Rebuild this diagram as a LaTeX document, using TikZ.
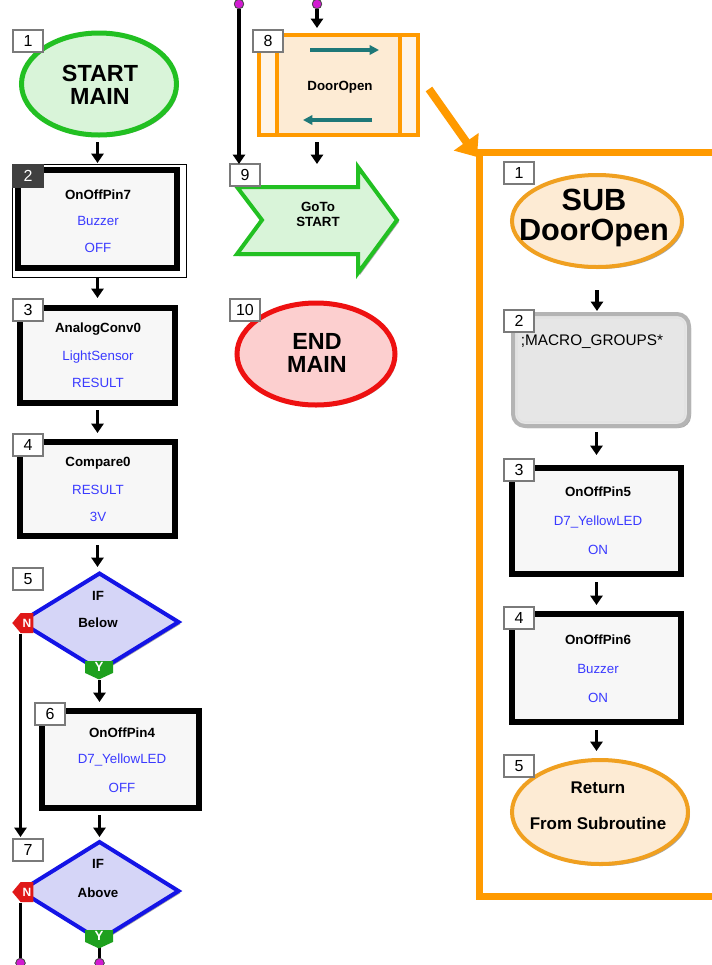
\documentclass[tikz,border=0pt]{standalone}
\usepackage{fontspec}
\setmainfont{Liberation Sans}
\usetikzlibrary{arrows.meta,shapes.geometric,shapes.symbols,shadows}
\definecolor{sgreen}{HTML}{22C022}
\definecolor{sgfill}{HTML}{D9F4D9}
\definecolor{ered}{HTML}{EE1111}
\definecolor{efill}{HTML}{FCCFCF}
\definecolor{orng}{HTML}{FF9A00}
\definecolor{sorng}{HTML}{F0A020}
\definecolor{ofill}{HTML}{FDEBD4}
\definecolor{dblue}{HTML}{1414E6}
\definecolor{dfill}{HTML}{D5D5F7}
\definecolor{vblue}{HTML}{3A3AFF}
\definecolor{teal2}{HTML}{1E7878}
\definecolor{boxfill}{HTML}{F7F7F7}
\definecolor{mag}{HTML}{D21BD2}
\definecolor{nred}{HTML}{E01818}
\definecolor{ygreen}{HTML}{1EA01E}
\definecolor{lblgray}{HTML}{7A7A7A}
\definecolor{mgfill}{HTML}{E6E6E6}
\definecolor{mgdraw}{HTML}{B4B4B4}
\begin{document}
\begin{tikzpicture}[x=0.75pt,y=-0.75pt,
  flow/.style={line width=2.5pt, -{Triangle[length=7pt,width=9pt]}},
  conn/.style={line width=2.5pt},
  shad/.style={drop shadow={shadow xshift=1.5pt,shadow yshift=-1.5pt,opacity=0.35,fill=black}},
  cmdbox/.style={draw=black, line width=4.5pt, fill=boxfill, inner sep=0pt, outer sep=0pt, shad},
  numlbl/.style={draw=lblgray, fill=white, line width=0.8pt, minimum width=22.5pt, minimum height=16.5pt, inner sep=0pt, outer sep=0pt, anchor=north west, font=\fontsize{12}{12}\selectfont},
  nm/.style={font=\bfseries\fontsize{10}{12}\selectfont, inner sep=0pt},
  val/.style={font=\fontsize{10}{12}\selectfont, text=vblue, inner sep=0pt},
  dot/.style={circle, fill=mag, draw=black!70, line width=0.6pt, minimum size=7pt, inner sep=0pt},
  decis/.style={diamond, draw=dblue, line width=3pt, fill=dfill, inner sep=0pt, outer sep=0pt, shad},
  nmark/.style={signal, signal to=west, signal pointer angle=100, fill=nred, text=white, font=\bfseries\fontsize{9}{9}\selectfont, inner sep=1.5pt, minimum height=15pt},
  ymark/.style={signal, signal to=south, signal pointer angle=130, fill=ygreen, text=white, font=\bfseries\fontsize{10}{10}\selectfont, inner sep=1pt, minimum width=21pt},
]
\useasboundingbox[fill=white] (0,0) rectangle (712,965);

% ---------------- column 1 ----------------
\node[draw=sgreen, line width=3.75pt, fill=sgfill, ellipse, minimum width=116.25pt, minimum height=76.5pt, inner sep=0pt, outer sep=0pt, shad] (e1) at (99,84) {};
\node[font=\bfseries\fontsize{17.5}{17.25}\selectfont, align=center, inner sep=0pt] (t1) at (100,85) {START\\MAIN};

\node[cmdbox, minimum width=119.25pt, minimum height=73.5pt] (b2) at (97.5,219) {};
\draw[line width=0.75pt] (12,164) rectangle (186,277);
\node[nm] (t2a) at (98,195) {OnOffPin7};
\node[val] (t2b) at (98,221) {Buzzer};
\node[val] (t2c) at (98,248) {OFF};

\node[cmdbox, minimum width=116.25pt, minimum height=71.25pt] (b3) at (97.5,355.5) {};
\node[nm] (t3a) at (98,329) {AnalogConv0};
\node[val] (t3b) at (98,357) {LightSensor};
\node[val] (t3c) at (98,383) {RESULT};

\node[cmdbox, minimum width=116.25pt, minimum height=70.5pt] (b4) at (97.5,489) {};
\node[nm] (t4a) at (98,463) {Compare0};
\node[val] (t4b) at (98,490) {RESULT};
\node[val] (t4c) at (98,517) {3V};

\node[decis, minimum width=118.5pt, minimum height=72.75pt] (d5) at (99.5,622) {};
\node[nm] (t5a) at (98,596) {IF};
\node[nm] (t5b) at (98,623) {Below};

\node[cmdbox, minimum width=117.75pt, minimum height=72.75pt] (b6) at (120.5,759.5) {};
\node[nm] (t6a) at (122,733) {OnOffPin4};
\node[val] (t6b) at (122,760) {D7\_YellowLED};
\node[val] (t6c) at (122,788) {OFF};

\node[decis, minimum width=118.5pt, minimum height=73.5pt] (d7) at (99.5,891) {};
\node[nm] (t7a) at (98,864) {IF};
\node[nm] (t7b) at (98,893) {Above};

% connectors column 1
\draw[flow, shorten <=5.25pt, shorten >=5.25pt] (b2.north |- e1.south) -- (b2.north);
\draw[flow, shorten <=7.5pt, shorten >=7.5pt] (b2.south) -- (b3.north);
\draw[flow, shorten <=5.25pt, shorten >=6.75pt] (b3.south) -- (b4.north);
\draw[flow, shorten <=6.75pt, shorten >=4.9pt] (b4.south) -- (b4.south |- d5.north);
\draw[flow, shorten <=7pt, shorten >=6.75pt] (d5.south) -- (d5.south |- b6.north);
\draw[flow, shorten <=5.25pt, shorten >=3.75pt] (d7.north |- b6.south) -- (d7.north);
\draw[flow, shorten <=9pt, shorten >=3.75pt] (d5.west) -- (d5.west |- d7.north);
\node[dot] (p3) at (20.5,963) {};
\node[dot] (p4) at (99.5,963) {};
\draw[conn, shorten <=9pt] (d7.west) -- (p3);
\draw[conn] (d7.south) -- (p4);
\node[dot] at (p3) {};
\node[dot] at (p4) {};

\node[nmark] (n5) at (27,623) {N};
\node[ymark] (y5) at (99,667) {Y};
\node[nmark] (n7) at (27,892) {N};
\node[ymark] (y7) at (99,936) {Y};

% ---------------- column 2 ----------------
\node[dot] (p1) at (239,4) {};
\node[dot] (p2) at (317,4) {};

\node[draw=orng, line width=3pt, fill=ofill, minimum width=119.25pt, minimum height=75pt, inner sep=0pt, outer sep=0pt, shad] (m8) at (338.5,85) {};
\fill[white!45!ofill] (261,37) rectangle (275,133);
\fill[white!45!ofill] (402,37) rectangle (416,133);
\draw[orng, line width=3pt] (277,35) -- (277,135);
\draw[orng, line width=3pt] (400,35) -- (400,135);
\draw[teal2, line width=2.6pt, -{Triangle[length=7pt,width=7pt]}] (310,50) -- (379,50);
\draw[teal2, line width=2.6pt, -{Triangle[length=7pt,width=7pt]}] (372,120) -- (303,120);
\node[nm] (t8) at (340,87) {DoorOpen};

\draw[draw=sgreen, line width=3pt, fill=sgfill, shad] (237,187) -- (358,187) -- (358,167) -- (397,220) -- (358,273) -- (358,254) -- (237,254) -- (262,220) -- cycle;
\node[font=\bfseries\fontsize{10}{11.25}\selectfont, align=center, inner sep=0pt] (t9) at (318,214) {GoTo\\START};

\node[draw=ered, line width=3.75pt, fill=efill, ellipse, minimum width=118.5pt, minimum height=76.5pt, inner sep=0pt, outer sep=0pt, shad] (e10) at (316,354) {};
\node[font=\bfseries\fontsize{17.5}{17.25}\selectfont, align=center, inner sep=0pt] (t10) at (317,353) {END\\MAIN};

% ---------------- subroutine ----------------
\coordinate (oa1) at (429,89);
\coordinate (oa2) at (477,157);
\draw[orng, line width=6pt, -{Triangle[length=14pt,width=22pt]}] (oa1) -- (oa2);
\draw[orng, line width=5.25pt] (718,152) -- (479,152) -- (479,896) -- (718,896);

\node[draw=sorng, line width=3pt, fill=ofill, ellipse, minimum width=127.5pt, minimum height=69pt, inner sep=0pt, outer sep=0pt, shad] (se1) at (597,221) {};
\node[font=\bfseries\fontsize{23}{23}\selectfont, align=center, inner sep=0pt] (st1) at (594,218) {SUB\\DoorOpen};

\node[draw=mgdraw, line width=3pt, fill=mgfill, rounded corners=9pt, minimum width=132pt, minimum height=84pt, inner sep=0pt, outer sep=0pt, shad] (sm2) at (601,370) {};
\draw[white!60!mgdraw, line width=0.8pt, rounded corners=6pt] (517,318) rectangle (685,422);
\node[font=\fontsize{11.5}{12}\selectfont, inner sep=0pt] (st2) at (592,342) {;MACRO\_GROUPS*};

\node[cmdbox, minimum width=126.75pt, minimum height=79.5pt] (sb3) at (596.5,521) {};
\node[nm] (st3a) at (598,492) {OnOffPin5};
\node[val] (st3b) at (598,522) {D7\_YellowLED};
\node[val] (st3c) at (598,550) {ON};

\node[cmdbox, minimum width=126.75pt, minimum height=81pt] (sb4) at (596.5,668) {};
\node[nm] (st4a) at (598,640) {OnOffPin6};
\node[val] (st4b) at (598,669) {Buzzer};
\node[val] (st4c) at (598,698) {ON};

\node[draw=sorng, line width=3pt, fill=ofill, ellipse, minimum width=132pt, minimum height=78pt, inner sep=0pt, outer sep=0pt, shad] (se5) at (600,812) {};
\node[font=\bfseries\fontsize{12.7}{14}\selectfont, inner sep=0pt] (st5a) at (598,788) {Return};
\node[font=\bfseries\fontsize{12.7}{14}\selectfont, inner sep=0pt] (st5b) at (598,823) {From Subroutine};

\draw[flow, shorten <=17.25pt, shorten >=2.25pt] (se1.south) -- (se1.south |- sm2.north);
\draw[flow, shorten <=4.5pt, shorten >=9.75pt] (sb3.north |- sm2.south) -- (sb3.north);
\draw[flow, shorten <=6pt, shorten >=6.75pt] (sb3.south) -- (sb4.north);
\draw[flow, shorten <=6pt, shorten >=6.75pt] (sb4.south) -- (sb4.south |- se5.north);

% ---------------- column 2 connectors ----------------
\node[numlbl] (l9) at (230,164) {9};
\draw[flow] (p1) -- (p1 |- l9.north);
\draw[flow, shorten >=5.25pt] (p2) -- (p2 |- m8.north);
\draw[flow, shorten <=5.25pt] (p2 |- m8.south) -- (p2 |- l9.north);
\node[dot] at (p1) {};
\node[dot] at (p2) {};

% ---------------- number labels ----------------
\node[numlbl] (l1) at (13,30) {1};
\node[numlbl, fill=black!75, draw=black!75, text=white] (l2) at (13,165) {2};
\node[numlbl] (l3) at (13,299) {3};
\node[numlbl] (l4) at (13,434) {4};
\node[numlbl] (l5) at (13,568) {5};
\node[numlbl] (l6) at (35,703) {6};
\node[numlbl] (l7) at (13,839) {7};
\node[numlbl] (l8) at (253,30) {8};
\node[numlbl] (l10) at (230,299) {10};
\node[numlbl] (sl1) at (504,162) {1};
\node[numlbl] (sl2) at (504,310) {2};
\node[numlbl] (sl3) at (504,459) {3};
\node[numlbl] (sl4) at (504,607) {4};
\node[numlbl] (sl5) at (504,755) {5};
\end{tikzpicture}
\end{document}
